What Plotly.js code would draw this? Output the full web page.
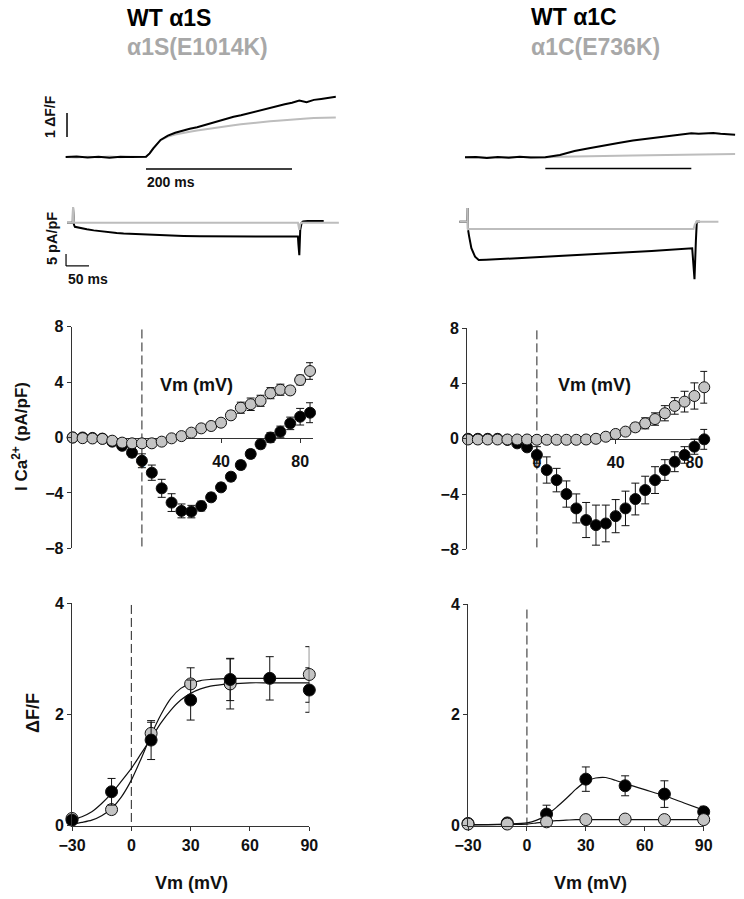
<!DOCTYPE html>
<html><head><meta charset="utf-8">
<script src="https://cdn.plot.ly/plotly-3.0.1.min.js"></script>
<style>html,body{margin:0;padding:0;background:#fff}#chart{width:744px;height:899px}</style>
</head><body><div id="chart"></div>
<script>
// ---------- DATA ----------
// Top: fluorescence traces (time ms, ΔF/F)
const tFluorS = [-110,-95,-80,-65,-50,-35,-20,-5,0,5,10,20,30,40,50,60,70,80,90,100,110,120,130,140,150,160,170,180,190,200,210,220,230,240,250,260];
const fluorS_wt  = [0,0.02,-0.02,0.01,-0.03,0.01,0,0.02,0.01,0.15,0.36,0.71,0.89,1.01,1.10,1.18,1.24,1.33,1.40,1.50,1.58,1.68,1.74,1.82,1.90,1.99,2.05,2.13,2.20,2.26,2.35,2.28,2.38,2.42,2.46,2.51];
const fluorS_mut = [0,-0.02,0.01,-0.01,0.02,-0.01,0.01,-0.01,0,0.15,0.36,0.70,0.85,0.94,1.01,1.05,1.10,1.15,1.20,1.24,1.28,1.32,1.36,1.40,1.43,1.46,1.49,1.51,1.54,1.57,1.58,1.60,1.62,1.64,1.64,1.65];
const tFluorC = [-110,-95,-80,-65,-50,-35,-20,-5,0,20,40,60,80,100,120,140,160,180,200,210,220,230,240,250,260];
const fluorC_wt  = [0,0.01,-0.03,0.01,-0.02,0.02,-0.01,0.01,0,0.10,0.26,0.38,0.50,0.60,0.70,0.78,0.85,0.92,1.00,0.98,1.00,1.01,0.98,0.96,0.94];
const fluorC_mut = [0,-0.01,0.01,-0.01,0.01,0,0.01,0,0,0.02,0.04,0.05,0.06,0.07,0.08,0.09,0.10,0.11,0.12,0.12,0.12,0.13,0.13,0.14,0.14];

// Top: current traces (time ms, pA/pF)
const tCurS_wt  = [-13,-0.5,0,1,2,4,10,20,30,45,60,80,95,110,130,150,167,185,204,240,276,310,348,400,450,489,490,492,494,497,500,510,530,545];
const curS_wt   = [0,0,6.5,0,-0.8,-1.7,-2.0,-2.4,-2.75,-3.2,-3.6,-4.0,-4.3,-4.5,-4.7,-4.9,-5.1,-5.25,-5.4,-5.55,-5.7,-5.75,-5.8,-5.8,-5.8,-5.8,-9,-13.5,-3,0,0.5,0.7,0.7,0.7];
const tCurS_mut = [-13,-0.5,0,1,2,489,490,492,494,497,578];
const curS_mut  = [0,0,6.5,0,0,0,-1.5,-3,-0.5,0,0];
const tCurC_wt  = [-18,-0.5,0,0.5,3,8,16,24,40,100,200,300,400,488,490,493,496,498,505];
const curC_wt   = [0,0,5.7,-3,-6,-11,-14.6,-16,-15.9,-15.3,-14.3,-13.2,-12.2,-11.1,-18,-24,-8,0,0];
const tCurC_mut = [-18,-0.5,0,0.5,3,488,491,494,498,545];
const curC_mut  = [0,0,5.7,-3.2,-3.0,-3.0,-3.0,-1,0,0];

// Middle: I-V relationships (mV, pA/pF)
const vIV = [-35,-30,-25,-20,-15,-10,-5,0,5,10,15,20,25,30,35,40,45,50,55,60,65,70,75,80,85];
const ivS_wt      = [0,0,-0.03,-0.08,-0.3,-0.6,-1.1,-1.68,-2.54,-3.67,-4.7,-5.3,-5.35,-4.95,-4.32,-3.6,-2.83,-1.99,-1.19,-0.49,0.0,0.42,1.02,1.5,1.79];
const ivS_wt_err  = [0.03,0.03,0.05,0.08,0.15,0.2,0.3,0.5,0.55,0.65,0.64,0.5,0.45,0.35,0.3,0.3,0.3,0.3,0.3,0.3,0.35,0.4,0.45,0.6,0.72];
const ivS_mut     = [0,-0.05,-0.07,-0.1,-0.23,-0.37,-0.42,-0.42,-0.42,-0.3,-0.06,0.1,0.35,0.66,0.83,1.07,1.6,2.15,2.4,2.65,3.2,3.45,3.4,4.15,4.8];
const ivS_mut_err = [0.05,0.05,0.05,0.05,0.08,0.1,0.12,0.15,0.15,0.15,0.15,0.15,0.15,0.2,0.2,0.25,0.3,0.4,0.45,0.4,0.4,0.4,0.3,0.35,0.6];
const ivC_wt      = [0,0,0,0,-0.08,-0.33,-0.62,-1.17,-2.26,-2.99,-4.0,-5.04,-5.88,-6.25,-6.13,-5.6,-5.04,-4.36,-3.71,-2.99,-2.26,-1.66,-1.17,-0.57,-0.04];
const ivC_wt_err  = [0.02,0.02,0.03,0.05,0.1,0.15,0.3,0.6,0.95,0.85,0.95,1.05,1.27,1.45,1.33,1.2,1.25,1.15,1.0,0.97,0.75,0.72,0.6,0.55,0.72];
const ivC_mut     = [-0.05,-0.05,-0.05,-0.05,-0.05,-0.05,-0.05,-0.07,-0.07,-0.07,-0.07,-0.07,-0.05,0.0,0.15,0.35,0.52,0.83,1.12,1.43,1.85,2.38,2.69,3.1,3.73];
const ivC_mut_err = [0.03,0.03,0.03,0.03,0.03,0.03,0.04,0.05,0.05,0.05,0.05,0.05,0.05,0.08,0.1,0.15,0.2,0.3,0.4,0.45,0.55,0.6,0.75,0.95,1.15];
const ivTicksX = [0,40,80];
const ivTicksY = [-8,-4,0,4,8];

// Bottom: ΔF/F vs Vm
const vF_wt  = [-30,-10,10,30,50,70,90];
const vF_mut = [-30,-10,10,30,50,90];
const fvS_wt      = [0.1,0.61,1.54,2.26,2.63,2.65,2.44];
const fvS_wt_err  = [0.05,0.24,0.35,0.36,0.38,0.39,0.4];
const fvS_mut     = [0.13,0.29,1.66,2.55,2.55,2.72];
const fvS_mut_err = [0.05,0.08,0.2,0.29,0.45,0.5];
const vC_pts = [-30,-10,10,30,50,70,90];
const fvC_wt      = [0.04,0.05,0.21,0.84,0.72,0.57,0.25];
const fvC_wt_err  = [0.02,0.02,0.16,0.22,0.18,0.24,0.1];
const fvC_mut     = [0.03,0.03,0.07,0.11,0.12,0.11,0.11];
const fvC_mut_err = [0.01,0.01,0.02,0.02,0.02,0.02,0.02];
// fitted curves
const vFitS = [-30,-25,-20,-15,-10,-5,0,5,10,15,20,25,30,35,40,50,60,70,80,90];
const fitS_wt  = [0.1,0.16,0.25,0.4,0.58,0.8,1.03,1.3,1.57,1.85,2.08,2.26,2.38,2.46,2.51,2.55,2.57,2.57,2.57,2.57];
const fitS_mut = [0.03,0.06,0.1,0.18,0.31,0.52,0.82,1.21,1.63,2.0,2.29,2.47,2.56,2.61,2.63,2.65,2.65,2.65,2.65,2.65];
const vFitC = [-30,-20,-10,0,5,10,15,20,25,30,35,40,45,50,60,70,80,90];
const fitC_wt  = [0.02,0.02,0.03,0.05,0.1,0.19,0.33,0.49,0.66,0.8,0.86,0.87,0.82,0.76,0.65,0.54,0.41,0.28];
const fitC_mut = [0.01,0.015,0.02,0.03,0.05,0.07,0.09,0.1,0.11,0.11,0.11,0.11,0.11,0.11,0.11,0.11,0.11,0.11];
const fvTicksX = [-30,0,30,60,90];
const fvTicksY = [0,2,4];

// ---------- LAYOUT HELPERS ----------
const W = 744, H = 899;
const PX = p => p / W;
const PY = p => 1 - p / H;
const BLACK = '#000000', GREYLINE = '#bdbdbd', GREYFILL = '#c4c4c4', AX = '#333333';
const FONT = 'Liberation Sans, Arial, Helvetica, sans-serif';

function hiddenX(p0, p1, r){ return {domain:[PX(p0),PX(p1)], range:r, visible:false, fixedrange:true}; }
function hiddenY(p0, p1, r){ return {domain:[PY(p1),PY(p0)], range:r, visible:false, fixedrange:true}; }
function tickFont(){ return {family:FONT, size:16, color:'#111', weight:'bold'}; }

const traces = [];
function line(xa, ya, x, y, color, w){ traces.push({type:'scatter', mode:'lines', x:x, y:y, xaxis:xa, yaxis:ya, line:{color:color, width:w||2}, hoverinfo:'skip', cliponaxis:false}); }
function pts(xa, ya, x, y, err, fill, size){ traces.push({type:'scatter', mode:'markers', x:x, y:y, xaxis:xa, yaxis:ya, cliponaxis:false,
  marker:{size:size||11, color:fill, line:{color:'#111', width:1}},
  error_y:{type:'data', array:err, visible:true, color:'#111', thickness:1, width:4}, hoverinfo:'skip'}); }
function fit(xa, ya, x, y){ traces.push({type:'scatter', mode:'lines', x:x, y:y, xaxis:xa, yaxis:ya, line:{color:'#111', width:1.2, shape:'spline', smoothing:0.8}, hoverinfo:'skip', cliponaxis:false}); }

// Top traces
line('x','y', tFluorS, fluorS_mut, GREYLINE);
line('x','y', tFluorS, fluorS_wt, BLACK);
line('x2','y2', tFluorC, fluorC_mut, GREYLINE);
line('x2','y2', tFluorC, fluorC_wt, BLACK);
line('x3','y3', tCurS_wt, curS_wt, BLACK);
line('x3','y3', tCurS_mut, curS_mut, GREYLINE);
line('x4','y4', tCurC_wt, curC_wt, BLACK);
line('x4','y4', tCurC_mut, curC_mut, GREYLINE);

// I-V
pts('x5','y5', vIV, ivS_wt, ivS_wt_err, BLACK, 11);
pts('x5','y5', vIV, ivS_mut, ivS_mut_err, GREYFILL, 11);
pts('x6','y6', vIV, ivC_wt, ivC_wt_err, BLACK, 11);
pts('x6','y6', vIV, ivC_mut, ivC_mut_err, GREYFILL, 11);

// F-V
fit('x7','y7', vFitS, fitS_mut);
fit('x7','y7', vFitS, fitS_wt);
pts('x7','y7', vF_mut, fvS_mut, fvS_mut_err, GREYFILL, 12);
pts('x7','y7', vF_wt, fvS_wt, fvS_wt_err, BLACK, 12);
fit('x8','y8', vFitC, fitC_wt);
fit('x8','y8', vFitC, fitC_mut);
pts('x8','y8', vC_pts, fvC_wt, fvC_wt_err, BLACK, 12);
pts('x8','y8', vC_pts, fvC_mut, fvC_mut_err, GREYFILL, 12);

// IV axes
function ivX(p0, p1, posPaper){ return {domain:[PX(p0),PX(p1)], range:[-35.5,86.5], anchor:'free', position:posPaper,
  showline:true, linecolor:AX, linewidth:1, ticks:'outside', ticklen:4, tickcolor:AX, tickvals:ivTicksX,
  tickfont:tickFont(), showgrid:false, zeroline:false, layer:'below traces', ticklabelstandoff:5, fixedrange:true}; }
function ivY(p0, p1, xa){ return {domain:[PY(p1),PY(p0)], range:[-8,8], anchor:xa, showline:true, linecolor:AX, linewidth:1,
  ticks:'outside', ticklen:4, tickcolor:AX, tickvals:ivTicksY, tickfont:tickFont(), showgrid:false, zeroline:false, fixedrange:true}; }
function fvX(p0, p1, ya){ return {domain:[PX(p0),PX(p1)], range:[-30,90], anchor:ya, showline:true, linecolor:AX, linewidth:1,
  ticks:'outside', ticklen:4, tickcolor:AX, tickvals:fvTicksX, tickfont:tickFont(), showgrid:false, zeroline:false, ticklabelstandoff:1, fixedrange:true}; }
function fvY(p0, p1, xa){ return {domain:[PY(p1),PY(p0)], range:[0,4], anchor:xa, showline:true, linecolor:AX, linewidth:1,
  ticks:'outside', ticklen:4, tickcolor:AX, tickvals:fvTicksY, tickfont:tickFont(), showgrid:false, zeroline:false, fixedrange:true}; }

const ivLeftY = [326.7, 548.3], ivRightY = [328.3, 549.3];
const midL = (PY(ivLeftY[0]) + PY(ivLeftY[1])) / 2, midR = (PY(ivRightY[0]) + PY(ivRightY[1])) / 2;

function ann(text, px, py, size, opts){ return Object.assign({text:text, x:PX(px), y:PY(py), xref:'paper', yref:'paper',
  showarrow:false, xanchor:'center', yanchor:'middle', font:{family:FONT, size:size, color:'#111', weight:'bold'}}, opts||{}); }

const annotations = [
  ann('WT α1S', 125, 18, 23, {xanchor:'left', font:{family:FONT, size:23, color:'#000', weight:'bold'}}),
  ann('α1S(E1014K)', 125, 47, 23, {xanchor:'left', font:{family:FONT, size:23, color:'#a8a8a8', weight:'bold'}}),
  ann('WT α1C', 529, 17, 23, {xanchor:'left', font:{family:FONT, size:23, color:'#000', weight:'bold'}}),
  ann('α1C(E736K)', 529, 47, 23, {xanchor:'left', font:{family:FONT, size:23, color:'#a8a8a8', weight:'bold'}}),
  ann('1 ΔF/F', 50, 117, 14, {textangle:-90}),
  ann('200 ms', 171, 182, 14),
  ann('5 pA/pF', 52, 238, 14.5, {textangle:-90}),
  ann('50 ms', 88, 279, 14),
  ann('Vm (mV)', 196, 385, 18),
  ann('Vm (mV)', 594, 385, 18),
  ann('I Ca<sup>2+</sup> (pA/pF)', 20, 437, 17, {textangle:-90}),
  ann('ΔF/F', 33, 713, 18, {textangle:-90}),
  ann('Vm (mV)', 191, 883, 18),
  ann('Vm (mV)', 590, 883, 18)
];

const dash = {color:'#222', width:1, dash:'9px,4px'};
const shapes = [
  // fluorescence scale bars
  {type:'line', xref:'x', yref:'y', x0:-108.2, x1:-108.2, y0:0.83, y1:1.83, line:{color:'#000', width:1.5}},
  {type:'line', xref:'x', yref:'y', x0:0, x1:200, y0:-0.5, y1:-0.5, line:{color:'#000', width:1.5}},
  {type:'line', xref:'x2', yref:'y2', x0:0, x1:200, y0:-0.46, y1:-0.46, line:{color:'#000', width:1.5}},
  // current scale bars
  {type:'line', xref:'x3', yref:'y3', x0:-15.2, x1:-15.2, y0:-13, y1:-18, line:{color:'#000', width:1.2}},
  {type:'line', xref:'x3', yref:'y3', x0:-15.2, x1:34.8, y0:-18, y1:-18, line:{color:'#000', width:1.2}},
  // dashed zero-voltage lines
  {type:'line', xref:'x5', yref:'y5', x0:0, x1:0, y0:7.8, y1:-8, line:dash, layer:'below'},
  {type:'line', xref:'x6', yref:'y6', x0:0, x1:0, y0:7.85, y1:-8, line:dash, layer:'below'},
  {type:'line', xref:'x7', yref:'y7', x0:0, x1:0, y0:3.97, y1:0, line:dash, layer:'below'},
  {type:'line', xref:'x8', yref:'y8', x0:0, x1:0, y0:3.9, y1:0, line:dash, layer:'below'}
];

const layout = {
  width:W, height:H, margin:{l:0,r:0,t:0,b:0}, paper_bgcolor:'#fff', plot_bgcolor:'rgba(0,0,0,0)',
  showlegend:false, font:{family:FONT},
  xaxis: hiddenX(60, 345, [-117.8, 272.6]),  yaxis: hiddenY(85, 190, [-1.375, 3.0]),
  xaxis2: hiddenX(455, 740, [-123.7, 266.7]), yaxis2: hiddenY(85, 190, [-1.36, 3.01]),
  xaxis3: hiddenX(60, 345, [-28.3, 591.3]),   yaxis3: hiddenY(200, 275, [-21.8, 9.46]),
  xaxis4: hiddenX(455, 740, [-27.6, 591.9]),  yaxis4: hiddenY(200, 290, [-28.46, 9.04]),
  xaxis5: ivX(71.7, 313, midL), yaxis5: ivY(ivLeftY[0], ivLeftY[1], 'x5'),
  xaxis6: ivX(467, 707.2, midR), yaxis6: ivY(ivRightY[0], ivRightY[1], 'x6'),
  xaxis7: fvX(72, 309.3, 'y7'), yaxis7: fvY(603.3, 825.7, 'x7'),
  xaxis8: fvX(468, 703.7, 'y8'), yaxis8: fvY(604, 825.7, 'x8'),
  annotations: annotations, shapes: shapes
};

Plotly.newPlot('chart', traces, layout, {staticPlot:true, displayModeBar:false});
</script></body></html>
